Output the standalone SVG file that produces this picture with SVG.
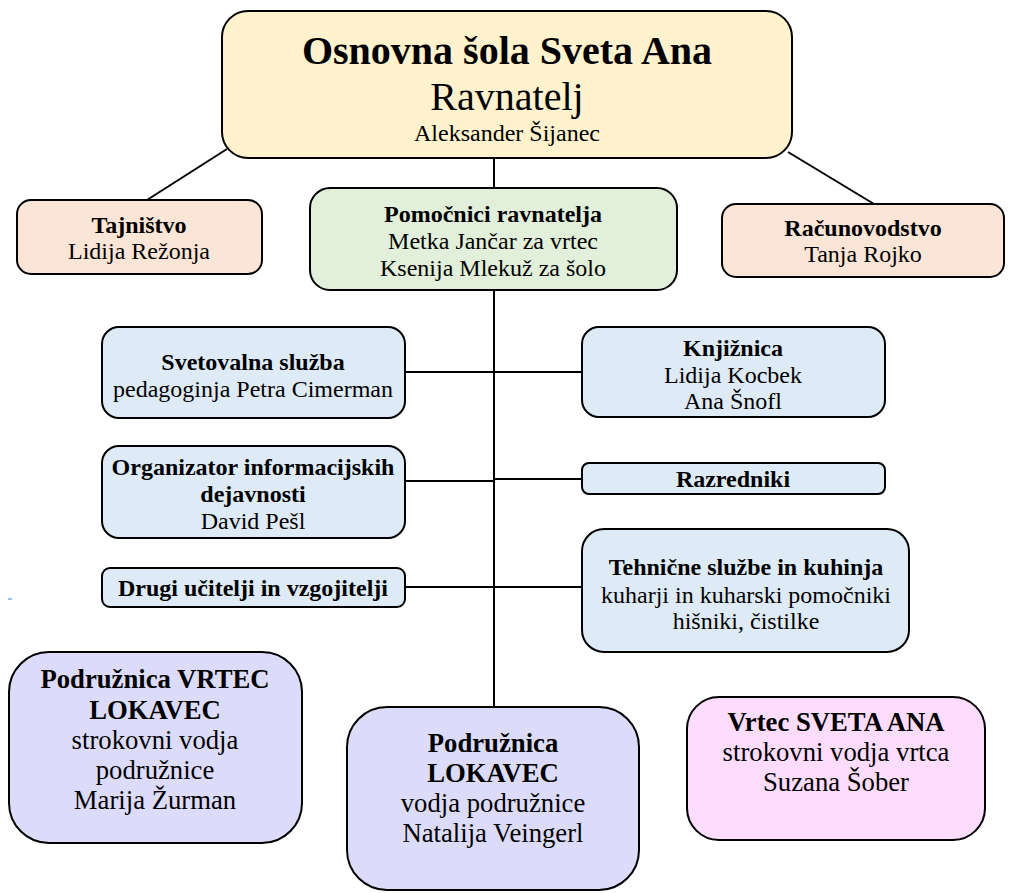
<svg xmlns="http://www.w3.org/2000/svg" width="1017" height="893" viewBox="0 0 1017 893">
<style>
.box{stroke:#000;stroke-width:2}
.t{font-family:"Liberation Serif","Times New Roman",serif;text-anchor:middle;fill:#000}
.b{font-weight:bold}
.s24{font-size:24px}
.s27{font-size:26.7px}
.yel{fill:#FFF2CC}
.pea{fill:#FBE5D6}
.grn{fill:#E2EFDA}
.blu{fill:#DEEBF7}
.lav{fill:#DCDCFA}
.pnk{fill:#FDDCFD}
.c{stroke:#000;stroke-width:2;fill:none}
</style>
<rect width="1017" height="893" fill="#fff"/>
<g id="connectors">
<line class="c" x1="227" y1="149" x2="147" y2="200"/>
<line class="c" x1="788" y1="152" x2="874" y2="204"/>
<line class="c" x1="494" y1="158" x2="494" y2="188"/>
<line class="c" x1="494" y1="290" x2="494" y2="707"/>
<line class="c" x1="405" y1="372" x2="494" y2="372"/>
<line class="c" x1="494" y1="372" x2="582" y2="372"/>
<line class="c" x1="405" y1="481" x2="494" y2="481"/>
<line class="c" x1="494" y1="479" x2="582" y2="479"/>
<line class="c" x1="405" y1="587" x2="494" y2="587"/>
<line class="c" x1="494" y1="587" x2="582" y2="587"/>
</g>
<g id="ravnatelj">
<rect class="box yel" x="222" y="11" width="570" height="147" rx="26"/>
<text class="t b" x="507" y="64" font-size="40">Osnovna šola Sveta Ana</text>
<text class="t" x="507" y="110" font-size="40">Ravnatelj</text>
<text class="t s24" x="507" y="141">Aleksander Šijanec</text>
</g>
<g id="tajnistvo">
<rect class="box pea" x="17" y="200" width="245" height="74" rx="14"/>
<text class="t b s24" x="139" y="233">Tajništvo</text>
<text class="t s24" x="139" y="259">Lidija Režonja</text>
</g>
<g id="pomocniki">
<rect class="box grn" x="310" y="188" width="367" height="102" rx="20"/>
<text class="t b s24" x="493" y="222">Pomočnici ravnatelja</text>
<text class="t s24" x="493" y="249">Metka Jančar za vrtec</text>
<text class="t s24" x="493" y="276">Ksenija Mlekuž za šolo</text>
</g>
<g id="racunovodstvo">
<rect class="box pea" x="722" y="204" width="282" height="73" rx="14"/>
<text class="t b s24" x="863" y="236">Računovodstvo</text>
<text class="t s24" x="863" y="262">Tanja Rojko</text>
</g>
<g id="svetovalna">
<rect class="box blu" x="102" y="327" width="303" height="91" rx="17"/>
<text class="t b s24" x="253" y="370">Svetovalna služba</text>
<text class="t s24" x="253" y="397">pedagoginja Petra Cimerman</text>
</g>
<g id="knjiznica">
<rect class="box blu" x="582" y="327" width="303" height="90" rx="17"/>
<text class="t b s24" x="733" y="356">Knjižnica</text>
<text class="t s24" x="733" y="383">Lidija Kocbek</text>
<text class="t s24" x="733" y="409">Ana Šnofl</text>
</g>
<g id="organizator">
<rect class="box blu" x="102" y="446" width="303" height="92" rx="17"/>
<text class="t b s24" x="253" y="475">Organizator informacijskih</text>
<text class="t b s24" x="253" y="502">dejavnosti</text>
<text class="t s24" x="253" y="529">David Pešl</text>
</g>
<g id="razredniki">
<rect class="box blu" x="582" y="463" width="303" height="31" rx="7"/>
<text class="t b s24" x="733" y="487">Razredniki</text>
</g>
<g id="drugi">
<rect class="box blu" x="102" y="568" width="303" height="39" rx="8"/>
<text class="t b s24" x="253" y="596">Drugi učitelji in vzgojitelji</text>
</g>
<g id="tehnicne">
<rect class="box blu" x="582" y="529" width="327" height="123" rx="22"/>
<text class="t b s24" x="746" y="575">Tehnične službe in kuhinja</text>
<text class="t s24" x="746" y="603">kuharji in kuharski pomočniki</text>
<text class="t s24" x="746" y="629">hišniki, čistilke</text>
</g>
<g id="vrtec-lokavec">
<rect class="box lav" x="9" y="652" width="293" height="191" rx="40"/>
<text class="t b s27" x="155" y="688">Podružnica VRTEC</text>
<text class="t b s27" x="155" y="719">LOKAVEC</text>
<text class="t s27" x="155" y="749">strokovni vodja</text>
<text class="t s27" x="155" y="779">podružnice</text>
<text class="t s27" x="155" y="809">Marija Žurman</text>
</g>
<g id="podruznica-lokavec">
<rect class="box lav" x="347" y="707" width="292" height="183" rx="40"/>
<text class="t b s27" x="493" y="752">Podružnica</text>
<text class="t b s27" x="493" y="782">LOKAVEC</text>
<text class="t s27" x="493" y="812">vodja podružnice</text>
<text class="t s27" x="493" y="842">Natalija Veingerl</text>
</g>
<g id="vrtec-sveta-ana">
<rect class="box pnk" x="687" y="697" width="298" height="143" rx="32"/>
<text class="t b s27" x="836" y="731">Vrtec SVETA ANA</text>
<text class="t s27" x="836" y="761">strokovni vodja vrtca</text>
<text class="t s27" x="836" y="791">Suzana Šober</text>
</g>
<rect x="8" y="598" width="4" height="2" fill="#9DC3E6"/>
</svg>
